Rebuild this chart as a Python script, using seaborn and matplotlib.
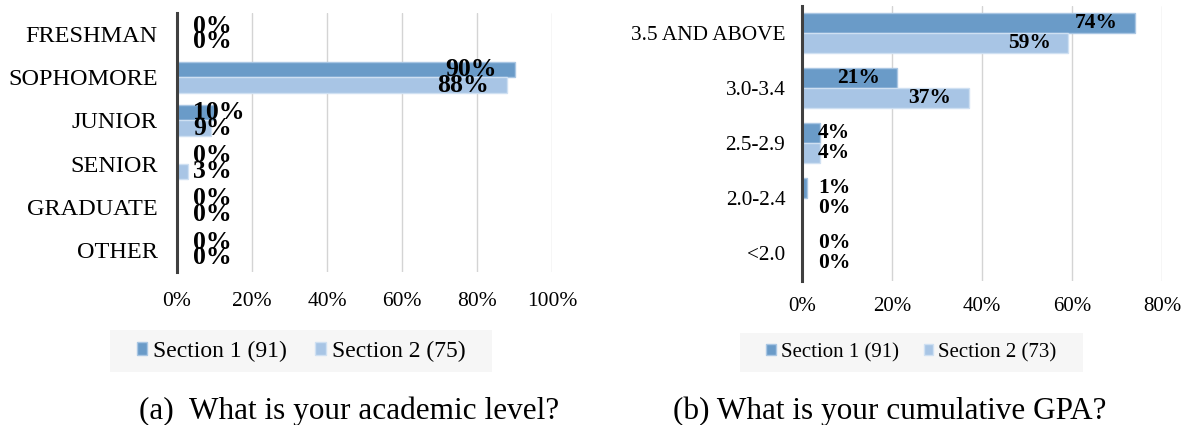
import matplotlib
matplotlib.use("Agg")
import matplotlib.pyplot as plt
import seaborn as sns
import pandas as pd
from matplotlib.patches import Patch, Rectangle
from matplotlib.ticker import FuncFormatter

# ---------------- data ----------------
levels = ["FRESHMAN", "SOPHOMORE", "JUNIOR", "SENIOR", "GRADUATE", "OTHER"]
level_sec1 = [0, 90, 10, 0, 0, 0]
level_sec2 = [0, 88, 9, 3, 0, 0]
level_series = ["Section 1 (91)", "Section 2 (75)"]

gpa_bins = ["3.5 AND ABOVE", "3.0-3.4", "2.5-2.9", "2.0-2.4", "<2.0"]
gpa_sec1 = [74, 21, 4, 1, 0]
gpa_sec2 = [59, 37, 4, 0, 0]
gpa_series = ["Section 1 (91)", "Section 2 (73)"]

left_ticks = [0, 20, 40, 60, 80, 100]
right_ticks = [0, 20, 40, 60, 80]

captions = ["(a)  What is your academic level?", "(b) What is your cumulative GPA?"]

# ---------------- style ----------------
sns.set_theme(style="white")
plt.rcParams["font.family"] = ["Liberation Serif", "DejaVu Serif"]
plt.rcParams["text.color"] = "black"
plt.rcParams["axes.labelcolor"] = "black"
plt.rcParams["xtick.color"] = "black"
plt.rcParams["ytick.color"] = "black"

C1 = "#6A9BC8"
C2 = "#A8C5E5"
E1 = "#A9C6E3"
E2 = "#CFE0F2"
GRID = "#D4D4D4"
SPINE = "#404040"

W, H = 1183, 425
fig = plt.figure(figsize=(W / 100, H / 100), dpi=100)


def px_axes(x0, x1, ytop, ybot):
    return fig.add_axes([x0 / W, 1 - ybot / H, (x1 - x0) / W, (ybot - ytop) / H])


def draw_panel(ax, cats, s1, s2, series, ticks, xmax, cat_fs, tick_fs, lab_fs,
               cat_pad, tick_pad, inside_off, base_off, px_per_unit):
    df = pd.DataFrame({
        "cat": cats + cats,
        "val": s1 + s2,
        "series": [series[0]] * len(cats) + [series[1]] * len(cats),
    })
    sns.barplot(data=df, y="cat", x="val", hue="series", order=cats,
                hue_order=series, palette=[C1, C2], orient="h", width=0.72,
                saturation=1, legend=False, ax=ax, errorbar=None)
    edges = [E1, E2]
    for ci, cont in enumerate(ax.containers):
        for p in cont.patches:
            p.set_edgecolor(edges[ci])
            p.set_linewidth(1.0)
    ax.set_xlim(0, xmax)
    ax.set_ylim(len(cats) - 0.5, -0.5)
    ax.set_xticks(ticks)
    ax.xaxis.set_major_formatter(FuncFormatter(lambda v, _: f"{int(v)}%"))
    ax.set_xlabel("")
    ax.set_ylabel("")
    ax.grid(axis="x", color=GRID, linewidth=1.0)
    ax.grid(axis="y", visible=False)
    ax.set_axisbelow(True)
    for s in ["top", "right", "bottom"]:
        ax.spines[s].set_visible(False)
    ax.spines["left"].set_color(SPINE)
    ax.spines["left"].set_linewidth(2.2)
    ax.spines["left"].set_zorder(5)
    ax.tick_params(axis="y", length=0, pad=cat_pad, labelsize=cat_fs, labelcolor="black")
    ax.tick_params(axis="x", length=0, pad=tick_pad, labelsize=tick_fs, labelcolor="black")
    # data labels
    for cont in ax.containers:
        for p in cont.patches:
            v = p.get_width()
            yc = p.get_y() + p.get_height() / 2
            txt = f"{round(v)}%"
            if v * px_per_unit > 60:
                ax.annotate(txt, (v, yc), xytext=(inside_off, 0), textcoords="offset points",
                            ha="right", va="center", fontsize=lab_fs, fontweight="bold",
                            color="black", zorder=6)
            else:
                ax.annotate(txt, (0, yc), xytext=(base_off, 0), textcoords="offset points",
                            ha="left", va="center", fontsize=lab_fs, fontweight="bold",
                            color="black", zorder=6)


def legend_box(x0, x1, y0, y1, series, fs, xc):
    fig.patches.append(Rectangle((x0 / W, 1 - y1 / H), (x1 - x0) / W, (y1 - y0) / H,
                                 transform=fig.transFigure, facecolor="#F6F6F6",
                                 edgecolor="none", zorder=0))
    handles = [Patch(facecolor=C1, edgecolor=E1), Patch(facecolor=C2, edgecolor=E2)]
    fig.legend(handles, series, loc="center", bbox_to_anchor=(xc / W, 1 - (y0 + y1) / 2 / H),
               ncol=2, frameon=False, fontsize=fs, handlelength=0.45, handleheight=0.45,
               handletextpad=0.25, columnspacing=1.2, borderpad=0.0, labelcolor="black")


axL = px_axes(177, 552, 12.5, 271.5)
draw_panel(axL, levels, level_sec1, level_sec2, level_series, left_ticks, 100,
           cat_fs=17.5, tick_fs=15.5, lab_fs=18.5, cat_pad=14, tick_pad=15,
           inside_off=-13, base_off=11.5, px_per_unit=3.75)

axR = px_axes(802, 1162, 5.5, 280.5)
draw_panel(axR, gpa_bins, gpa_sec1, gpa_sec2, gpa_series, right_ticks, 80,
           cat_fs=15.3, tick_fs=15, lab_fs=15.5, cat_pad=12, tick_pad=12,
           inside_off=-12.2, base_off=11.5, px_per_unit=4.5)

legend_box(110, 492, 330, 372, level_series, 17, 301)
legend_box(740, 1083, 333, 372, gpa_series, 15, 911.5)

fig.text(349.5 / W, 1 - 419 / H, captions[0], ha="center", va="baseline", fontsize=22.5,
         color="black")
fig.text(890 / W, 1 - 419 / H, captions[1], ha="center", va="baseline", fontsize=22.5,
         color="black")

fig.savefig("out.png", dpi=100)
